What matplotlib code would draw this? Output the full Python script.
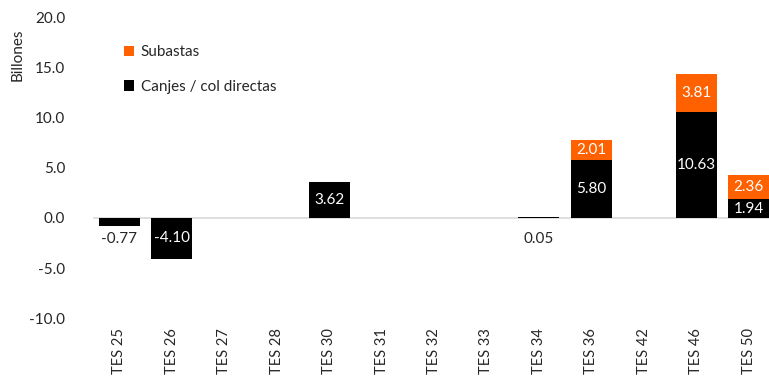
import matplotlib.pyplot as plt
import numpy as np

bonos = ["TES 25", "TES 26", "TES 27", "TES 28", "TES 30", "TES 31", "TES 32",
         "TES 33", "TES 34", "TES 36", "TES 42", "TES 46", "TES 50"]
canjes = [-0.77, -4.10, 0, 0, 3.62, 0, 0, 0, 0.05, 5.80, 0, 10.63, 1.94]
subastas = [0, 0, 0, 0, 0, 0, 0, 0, 0, 2.01, 0, 3.81, 2.36]

naranja = "#ff6100"
gris = "#262626"

plt.rcParams["font.family"] = ["Lato", "DejaVu Sans"]

fig = plt.figure(figsize=(7.69, 3.81), dpi=100)
ax = fig.add_axes([93 / 769, 1 - 318 / 381, 682 / 769, 300 / 381])

x = np.arange(len(bonos))
ancho = 0.78
b1 = ax.bar(x, canjes, ancho, color="black", label="Canjes / col directas", zorder=2)
b2 = ax.bar(x, subastas, ancho, bottom=canjes, color=naranja, label="Subastas", zorder=2)

# etiquetas de datos
for i, (c, s) in enumerate(zip(canjes, subastas)):
    if c == 0:
        continue
    if abs(c) < 2:
        if c > 0 and s > 0:
            ax.text(i, c / 2 - 0.1, f"{c:.2f}", ha="center", va="center",
                    color="white", fontsize=11)
        else:
            ax.text(i, -2.15, f"{c:.2f}", ha="center", va="center",
                    color=gris, fontsize=11)
    else:
        ax.text(i, c / 2, f"{c:.2f}", ha="center", va="center",
                color="white", fontsize=11)
    if s > 0:
        ax.text(i, c + s / 2, f"{s:.2f}", ha="center", va="center",
                color="white", fontsize=11)

ax.set_xlim(-0.5, len(bonos) - 0.5)
ax.set_ylim(-10, 20)
ax.set_yticks(np.arange(-10, 21, 5))
ax.set_yticklabels([f"{v:.1f}" for v in np.arange(-10, 21, 5)])
ax.set_xticks(x)
ax.set_xticklabels(bonos, rotation=90)
ax.xaxis.set_ticks_position("none")
ax.tick_params(axis="x", pad=4, labelsize=10.5, colors=gris)
ax.tick_params(axis="y", length=0, pad=20, labelsize=11, colors=gris)

for sp in ax.spines.values():
    sp.set_visible(False)
ax.axhline(0, color="#d9d9d9", lw=1.2, zorder=1)

ax.set_ylabel("Billones", fontsize=11, color=gris)
ax.yaxis.set_label_coords(-0.1, 0.877)

ax.legend([b2, b1], ["Subastas", "Canjes / col directas"], loc="upper left",
          bbox_to_anchor=(0.025, 0.955), frameon=False,
          fontsize=11, handlelength=0.7, handleheight=0.7, handletextpad=0.4,
          labelspacing=1.35, labelcolor=gris)

fig.savefig("out.png", dpi=100)
